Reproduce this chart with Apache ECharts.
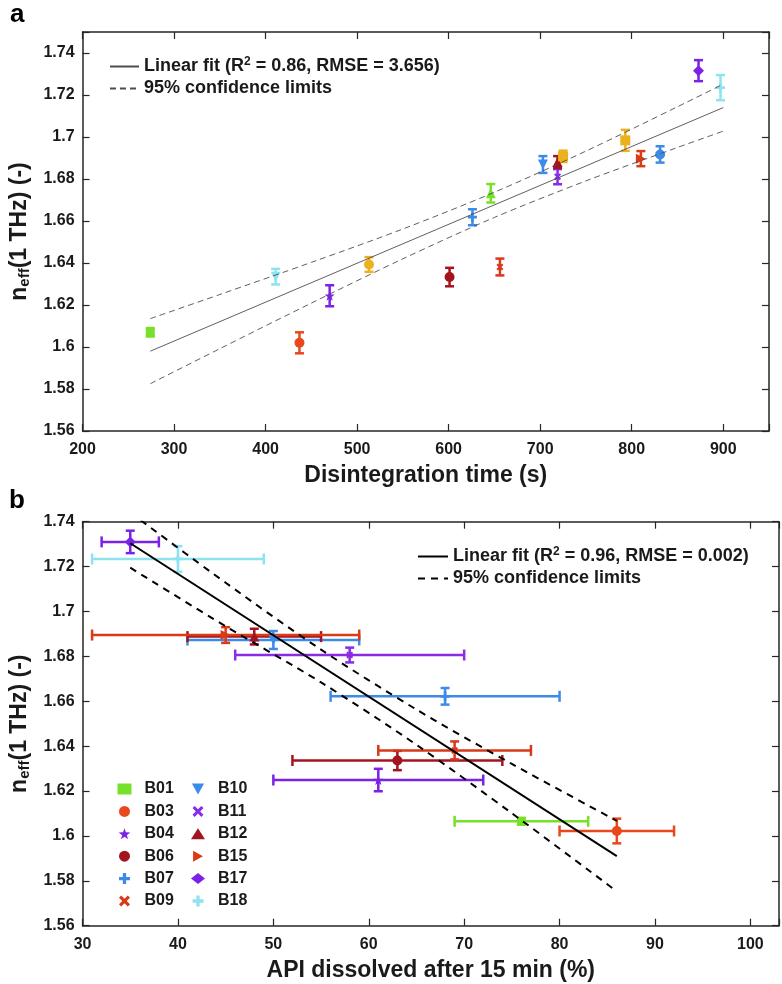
<!DOCTYPE html>
<html>
<head>
<meta charset="utf-8">
<script src="https://cdn.jsdelivr.net/npm/echarts@6/dist/echarts.min.js"></script>
<style>
  html, body { margin: 0; padding: 0; background: #fff; }
  #chart { width: 782px; height: 984px; }
</style>
</head>
<body>
<div id="chart"></div>
<script>
// batches shown in both panels
const batches = ['B01', 'B03', 'B04', 'B06', 'B07', 'B09', 'B10', 'B11', 'B12', 'B15', 'B17', 'B18'];
const batchColors = ['#76e02a', '#e8481c', '#7b22e6', '#a3141f', '#3d8be8', '#d9381a', '#3d8be8', '#8b2be6', '#a3141f', '#dc3a16', '#7b22e6', '#8fe3f0'];

// panel a: disintegration time (s) vs n_eff
const disTime = [274, 437, 470, 601, 626, 656, 703, 719, 719, 810, 873, 897];
const neffA = [1.607, 1.602, 1.6244, 1.6333, 1.6618, 1.6381, 1.6869, 1.6811, 1.6881, 1.6897, 1.7316, 1.7235];
const neffErrA = [0.002, 0.005, 0.005, 0.0044, 0.0038, 0.004, 0.004, 0.0036, 0.0028, 0.0036, 0.005, 0.006];
// panel a only: extra batches
const extraTime = [411, 513, 646, 725, 793, 831];
const extraNeff = [1.6335, 1.6393, 1.6732, 1.6908, 1.6984, 1.6917];
const extraErr = [0.0037, 0.0035, 0.0044, 0.0027, 0.005, 0.0039];
const extraColors = ['#8fe3f0', '#edb120', '#76e02a', '#edb120', '#edb120', '#3d8be8'];

// panel a fit + 95% limits
const fitA = [[274, 1.598], [900, 1.714]];
const ciXA = [274, 350, 450, 550, 650, 750, 850, 900];
const ciUpA = [1.6135, 1.625, 1.6403, 1.6562, 1.6737, 1.6933, 1.7144, 1.7252];
const ciLoA = [1.5825, 1.5992, 1.6209, 1.642, 1.6617, 1.6791, 1.695, 1.7028];

// panel b: API dissolved after 15 min (%) vs n_eff
const dissolved = [76, 86, 61, 63, 68, 69, 50, 58, 48, 45, 35, 40];
const dissErr = [7, 6, 11, 11, 12, 8, 9, 12, 7, 14, 3, 9];
const neffB = [1.6065, 1.6022, 1.6249, 1.6336, 1.6622, 1.6381, 1.6873, 1.6806, 1.6888, 1.6895, 1.731, 1.7234];
const neffErrB = [0.0015, 0.0055, 0.005, 0.0043, 0.0037, 0.004, 0.004, 0.0033, 0.0035, 0.0035, 0.005, 0.0057];

// panel b fit + 95% limits
const fitB = [[35, 1.7304], [86, 1.591]];
const ciXB = [35, 45, 55, 65, 75, 86];
const ciUpB = [1.7441, 1.7128, 1.683, 1.6563, 1.6321, 1.6067];
const ciLoB = [1.7195, 1.6934, 1.6684, 1.6406, 1.6101, 1.5753];

const legendText = {
  fitA: 'Linear fit (R{sup|2} = 0.86, RMSE = 3.656)',
  ciA: '95% confidence limits',
  fitB: 'Linear fit (R{sup|2} = 0.96, RMSE = 0.002)',
  ciB: '95% confidence limits'
};

const symbols = {
  B01: 'rect',
  B03: 'circle',
  B04: 'path://M5,0L6.2,3.5L10,3.6L7,5.9L8.1,9.5L5,7.4L1.9,9.5L3,5.9L0,3.6L3.8,3.5Z',
  B06: 'circle',
  B07: 'path://M3.5,0H6.5V3.5H10V6.5H6.5V10H3.5V6.5H0V3.5H3.5Z',
  B09: 'path://M2,0L5,3L8,0L10,2L7,5L10,8L8,10L5,7L2,10L0,8L3,5L0,2Z',
  B10: 'path://M0,0L10,0L5,9Z',
  B11: 'path://M2,0L5,3L8,0L10,2L7,5L10,8L8,10L5,7L2,10L0,8L3,5L0,2Z',
  B12: 'triangle',
  B15: 'path://M0,0L9,5L0,10Z',
  B17: 'diamond',
  B18: 'path://M3.5,0H6.5V3.5H10V6.5H6.5V10H3.5V6.5H0V3.5H3.5Z'
};
const symbolSizes = {B01: 9, B03: 10, B04: 10, B06: 10, B07: 9, B09: 7, B10: 10, B11: 7, B12: 10, B15: 10, B17: 11, B18: 9};
const extraSymbols = ['path://M0,0L10,0L5,9Z', 'circle', 'triangle', 'rect', 'rect', 'circle'];

const FONT = 'Liberation Sans, Arial, sans-serif';
const axisColor = '#262626';

function vBars(params, api) {
  const x = api.value(0), y = api.value(1), e = api.value(2);
  const top = api.coord([x, y + e]);
  const bot = api.coord([x, y - e]);
  const cap = 4.5;
  const style = { stroke: api.visual('color'), lineWidth: 2.5 };
  return {
    type: 'group',
    children: [
      { type: 'line', shape: { x1: top[0], y1: top[1], x2: bot[0], y2: bot[1] }, style: style },
      { type: 'line', shape: { x1: top[0] - cap, y1: top[1], x2: top[0] + cap, y2: top[1] }, style: style },
      { type: 'line', shape: { x1: bot[0] - cap, y1: bot[1], x2: bot[0] + cap, y2: bot[1] }, style: style }
    ]
  };
}

function xyBars(params, api) {
  const x = api.value(0), y = api.value(1), ex = api.value(2), ey = api.value(3);
  const top = api.coord([x, y + ey]);
  const bot = api.coord([x, y - ey]);
  const lft = api.coord([x - ex, y]);
  const rgt = api.coord([x + ex, y]);
  const cap = 4.5, hcap = 5.5;
  const style = { stroke: api.visual('color'), lineWidth: 2.5 };
  return {
    type: 'group',
    children: [
      { type: 'line', shape: { x1: top[0], y1: top[1], x2: bot[0], y2: bot[1] }, style: style },
      { type: 'line', shape: { x1: top[0] - cap, y1: top[1], x2: top[0] + cap, y2: top[1] }, style: style },
      { type: 'line', shape: { x1: bot[0] - cap, y1: bot[1], x2: bot[0] + cap, y2: bot[1] }, style: style },
      { type: 'line', shape: { x1: lft[0], y1: lft[1], x2: rgt[0], y2: rgt[1] }, style: style },
      { type: 'line', shape: { x1: lft[0], y1: lft[1] - hcap, x2: lft[0], y2: lft[1] + hcap }, style: style },
      { type: 'line', shape: { x1: rgt[0], y1: rgt[1] - hcap, x2: rgt[0], y2: rgt[1] + hcap }, style: style }
    ]
  };
}

function boxAxis(gridIndex, type, position, min, max, interval, fmt, nameOpt) {
  const ax = {
    type: 'value',
    gridIndex: gridIndex,
    position: position,
    min: min,
    max: max,
    interval: interval,
    splitLine: { show: false },
    axisLine: { show: true, onZero: false, lineStyle: { color: axisColor, width: 1.5 } },
    axisTick: { show: true, inside: true, length: 7, lineStyle: { color: axisColor, width: 1.2 } },
    axisLabel: {
      show: !!fmt,
      formatter: fmt,
      color: '#1a1a1a',
      fontFamily: FONT,
      fontWeight: 'bold',
      fontSize: 16,
      margin: type === 'x' ? 11 : 8
    }
  };
  if (nameOpt) Object.assign(ax, nameOpt);
  return ax;
}

const fmtA_x = v => (v % 100 === 0 ? String(v) : '');
const fmtB_x = v => (v % 10 === 0 ? String(v) : '');
const fmtY = v => (Math.abs(v * 50 - Math.round(v * 50)) < 1e-6 ? String(+v.toFixed(2)) : '');

const yName = {
  name: '{n|n}{s|eff}{n|(1 THz) (-)}',
  nameLocation: 'middle',
  nameRotate: 90,
  nameGap: 48,
  nameTextStyle: {
    color: '#1a1a1a',
    fontFamily: FONT,
    fontWeight: 'bold',
    rich: {
      n: { fontSize: 23, fontWeight: 'bold', fontFamily: FONT, color: '#1a1a1a' },
      s: { fontSize: 15, fontWeight: 'bold', fontFamily: FONT, color: '#1a1a1a', padding: [11, 0, 0, 0] }
    }
  }
};
function xName(text) {
  return {
    name: text,
    nameLocation: 'middle',
    nameGap: 33,
    nameTextStyle: { color: '#1a1a1a', fontFamily: FONT, fontWeight: 'bold', fontSize: 23 }
  };
}

const series = [];

// panel b markers first (legend icons come from them)
batches.forEach((b, i) => {
  series.push({
    name: b,
    type: 'scatter',
    xAxisIndex: 2,
    yAxisIndex: 2,
    symbol: symbols[b],
    symbolSize: symbolSizes[b],
    itemStyle: { color: batchColors[i], opacity: 1 },
    z: 4,
    data: [[dissolved[i], neffB[i]]]
  });
  series.push({
    type: 'custom',
    xAxisIndex: 2,
    yAxisIndex: 2,
    renderItem: xyBars,
    itemStyle: { color: batchColors[i] },
    z: 3,
    data: [[dissolved[i], neffB[i], dissErr[i], neffErrB[i]]]
  });
});

// panel a markers
batches.forEach((b, i) => {
  series.push({
    name: b,
    type: 'scatter',
    xAxisIndex: 0,
    yAxisIndex: 0,
    symbol: symbols[b],
    symbolSize: symbolSizes[b],
    itemStyle: { color: batchColors[i], opacity: 1 },
    z: 4,
    data: [[disTime[i], neffA[i]]]
  });
  series.push({
    type: 'custom',
    xAxisIndex: 0,
    yAxisIndex: 0,
    renderItem: vBars,
    itemStyle: { color: batchColors[i] },
    z: 3,
    data: [[disTime[i], neffA[i], neffErrA[i]]]
  });
});
extraTime.forEach((t, i) => {
  series.push({
    type: 'scatter',
    xAxisIndex: 0,
    yAxisIndex: 0,
    symbol: extraSymbols[i],
    symbolSize: 10,
    itemStyle: { color: extraColors[i], opacity: 1 },
    z: 4,
    data: [[t, extraNeff[i]]]
  });
  series.push({
    type: 'custom',
    xAxisIndex: 0,
    yAxisIndex: 0,
    renderItem: vBars,
    itemStyle: { color: extraColors[i] },
    z: 3,
    data: [[t, extraNeff[i], extraErr[i]]]
  });
});

// fit lines
function lineSeries(name, xi, data, color, width, dashed) {
  return {
    name: name,
    type: 'line',
    xAxisIndex: xi,
    yAxisIndex: xi,
    data: data,
    symbol: 'none',
    smooth: dashed ? 0.3 : false,
    clip: true,
    z: 5,
    lineStyle: { color: color, width: width, type: dashed ? (width > 1.5 ? [7, 6] : [6, 4]) : 'solid' },
    itemStyle: { color: color }
  };
}
series.push(lineSeries('fitA', 0, fitA, '#4d4d4d', 0.9, false));
series.push(lineSeries('ciA', 0, ciXA.map((x, i) => [x, ciUpA[i]]), '#4d4d4d', 0.9, true));
series.push(lineSeries('ciA', 0, ciXA.map((x, i) => [x, ciLoA[i]]), '#4d4d4d', 0.9, true));
series.push(lineSeries('fitB', 2, fitB, '#000', 2, false));
series.push(lineSeries('ciB', 2, ciXB.map((x, i) => [x, ciUpB[i]]), '#000', 2, true));
series.push(lineSeries('ciB', 2, ciXB.map((x, i) => [x, ciLoB[i]]), '#000', 2, true));

const legendTextStyle = {
  color: '#1a1a1a',
  fontFamily: FONT,
  fontWeight: 'bold',
  fontSize: 18,
  lineHeight: 21,
  rich: {
    sup: { fontSize: 12, lineHeight: 12, verticalAlign: 'top', fontWeight: 'bold', fontFamily: FONT, color: '#1a1a1a' }
  }
};
const fitLegend = (data, left, top, w) => ({
  data: data,
  left: left,
  top: top,
  orient: 'vertical',
  itemWidth: w,
  itemHeight: 12,
  itemGap: 1,
  selectedMode: false,
  itemStyle: { opacity: 0 },
  formatter: name => legendText[name],
  textStyle: legendTextStyle
});
const batchLegend = (data, left) => ({
  data: data,
  left: left,
  top: 775,
  orient: 'vertical',
  itemWidth: 14,
  itemHeight: 11,
  itemGap: 4.4,
  selectedMode: false,
  textStyle: { color: '#1a1a1a', fontFamily: FONT, fontWeight: 'bold', fontSize: 16, lineHeight: 18, padding: [0, 0, 0, 8] }
});

const option = {
  animation: false,
  backgroundColor: '#fff',
  graphic: [
    { type: 'text', left: 10, top: 2, style: { text: 'a', font: 'bold 26px ' + FONT, fill: '#000' } },
    { type: 'text', left: 9, top: 488, style: { text: 'b', font: 'bold 26px ' + FONT, fill: '#000' } }
  ],
  grid: [
    { left: 81, top: 32, width: 688, height: 399 },
    { left: 82.5, top: 521.7, width: 696.8, height: 404 }
  ],
  xAxis: [
    boxAxis(0, 'x', 'bottom', 200, 950, 100, fmtA_x, xName('Disintegration time (s)')),
    boxAxis(0, 'x', 'top', 200, 950, 100, null),
    boxAxis(1, 'x', 'bottom', 30, 103, 10, fmtB_x, xName('API dissolved after 15 min (%)')),
    boxAxis(1, 'x', 'top', 30, 103, 10, null)
  ],
  yAxis: [
    boxAxis(0, 'y', 'left', 1.56, 1.75, 0.02, fmtY, yName),
    boxAxis(0, 'y', 'right', 1.56, 1.75, 0.02, null),
    boxAxis(1, 'y', 'left', 1.56, 1.74, 0.02, fmtY, yName),
    boxAxis(1, 'y', 'right', 1.56, 1.74, 0.02, null)
  ],
  legend: [
    fitLegend(['fitA', 'ciA'], 104, 51, 29),
    fitLegend(['fitB', 'ciB'], 412, 541, 30),
    batchLegend(batches.slice(0, 6), 112.5),
    batchLegend(batches.slice(6), 186)
  ],
  series: series
};

const chart = echarts.init(document.getElementById('chart'));
chart.setOption(option);
window.addEventListener('resize', () => chart.resize());
</script>
</body>
</html>
